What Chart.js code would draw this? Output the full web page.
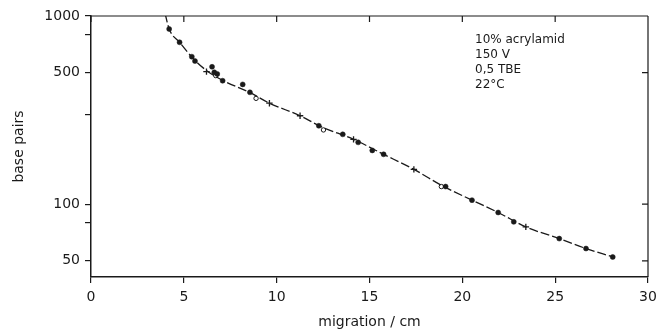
<!DOCTYPE html>
<html><head><meta charset="utf-8">
<script src="https://cdn.jsdelivr.net/npm/chart.js@4.4.1/dist/chart.umd.min.js"></script>
<style>html,body{margin:0;padding:0;background:#fff}#wrap{width:658px;height:331px;position:relative}</style>
</head><body><div id="wrap"><canvas id="c"></canvas></div>
<script>
// measured points (migration in cm, size in base pairs)
const dotX = [4.21,4.77,5.43,5.60,6.52,6.64,6.80,7.09,8.17,8.56,12.27,13.56,14.39,15.15,15.76,19.10,20.52,21.93,22.77,25.22,26.66,28.10];
const dotY = [853,725,608,576,537,502,492,453,433,393,261,235,213,193,184,124,105,90.3,80.5,65.6,58.1,52.4];
const crossX = [6.22,9.61,11.26,14.14,17.39,23.42];
const crossY = [506,344,295,221,153,75.7];
const openX = [6.72,8.89,12.52,18.87];
const openY = [482,365,248,124];
// fitted calibration curve
const curveX = [3.99,4.21,4.77,5.50,6.20,7.09,8.60,9.61,11.26,12.40,14.14,15.76,17.39,19.00,20.52,21.93,23.42,25.22,26.66,28.10];
const curveY = [1030,853,725,595,515,455,390,344,295,258,221,184,153,124,105,90.3,75.7,65.6,58.1,52.4];
// axes
const xTicks = [0,5,10,15,20,25,30];
const yMajor = [50,100,500,1000];
const yMinor = [60,70,80,90,200,300,400,600,700,800,900];
const notes = ['10% acrylamid','150 V','0,5 TBE','22°C'];

const ink = '#1a1a1a';
const FONT = 'DejaVu Sans';
const pts = (xs, ys) => xs.map((x, i) => ({x, y: ys[i]}));

const framePlugin = {
  id: 'frame',
  afterDraw(chart) {
    const {ctx, chartArea: a, scales} = chart;
    ctx.save();
    ctx.strokeStyle = ink;
    ctx.lineWidth = 1.2;
    ctx.beginPath();
    ctx.moveTo(a.left, a.top); ctx.lineTo(a.right, a.top);
    ctx.moveTo(a.right, a.top); ctx.lineTo(a.right, a.bottom);
    xTicks.forEach(v => {
      const px = scales.x.getPixelForValue(v);
      ctx.moveTo(px, a.top); ctx.lineTo(px, a.top + 6);
    });
    yMajor.forEach(v => {
      const py = scales.y.getPixelForValue(v);
      ctx.moveTo(a.right, py); ctx.lineTo(a.right - 6, py);
    });
    ctx.stroke();
    ctx.fillStyle = ink;
    ctx.font = '12px ' + FONT;
    ctx.textBaseline = 'middle';
    notes.forEach((t, i) => ctx.fillText(t, a.left + 384, a.top + 24 + i * 15));
    ctx.restore();
  }
};

new Chart(document.getElementById('c'), {
  type: 'scatter',
  data: {
    datasets: [
      {type: 'line', data: pts(curveX, curveY), borderColor: ink, borderWidth: 1.3, borderDash: [9, 3],
       pointRadius: 0, tension: 0.4, cubicInterpolationMode: 'monotone', fill: false},
      {data: pts(dotX, dotY), pointStyle: 'circle', pointRadius: 2.5, backgroundColor: ink, borderColor: ink, borderWidth: 0.5},
      {data: pts(crossX, crossY), pointStyle: 'cross', pointRadius: 3.2, borderColor: ink, borderWidth: 1.3},
      {data: pts(openX, openY), pointStyle: 'circle', pointRadius: 2.2, backgroundColor: '#fff', borderColor: ink, borderWidth: 1}
    ]
  },
  options: {
    responsive: true, maintainAspectRatio: false, animation: false,
    layout: {padding: {left: 0, right: 10, top: 16, bottom: 0}},
    plugins: {legend: {display: false}, tooltip: {enabled: false}},
    scales: {
      x: {
        type: 'linear', min: 0, max: 30,
        afterBuildTicks: s => { s.ticks = xTicks.map(v => ({value: v})); },
        afterFit: s => { s.height = 54; s.paddingLeft = 0; s.paddingRight = 0; },
        grid: {drawOnChartArea: false, tickLength: 6, color: ink, lineWidth: 1.2},
        border: {color: ink, width: 1.5},
        ticks: {color: ink, font: {family: FONT, size: 14}, padding: 6, maxRotation: 0},
        title: {display: true, text: 'migration / cm', color: ink, font: {family: FONT, size: 14}, padding: {top: 0, bottom: 0}}
      },
      y: {
        type: 'logarithmic', min: 41, max: 1000,
        afterBuildTicks: s => { s.ticks = yMajor.concat(yMinor).sort((a, b) => a - b).map(v => ({value: v, major: yMajor.includes(v)})); },
        afterFit: s => { s.width = 91; s.paddingTop = 0; s.paddingBottom = 0; },
        grid: {drawOnChartArea: false, tickLength: 6, color: ink, lineWidth: 1.2},
        border: {color: ink, width: 1.5},
        ticks: {color: ink, font: {family: FONT, size: 14}, padding: 5,
          callback: v => yMajor.includes(v) ? String(v) : ''},
        title: {display: true, text: 'base pairs', color: ink, font: {family: FONT, size: 14}, padding: {top: 11, bottom: 0}}
      }
    }
  },
  plugins: [framePlugin]
});
</script></body></html>
